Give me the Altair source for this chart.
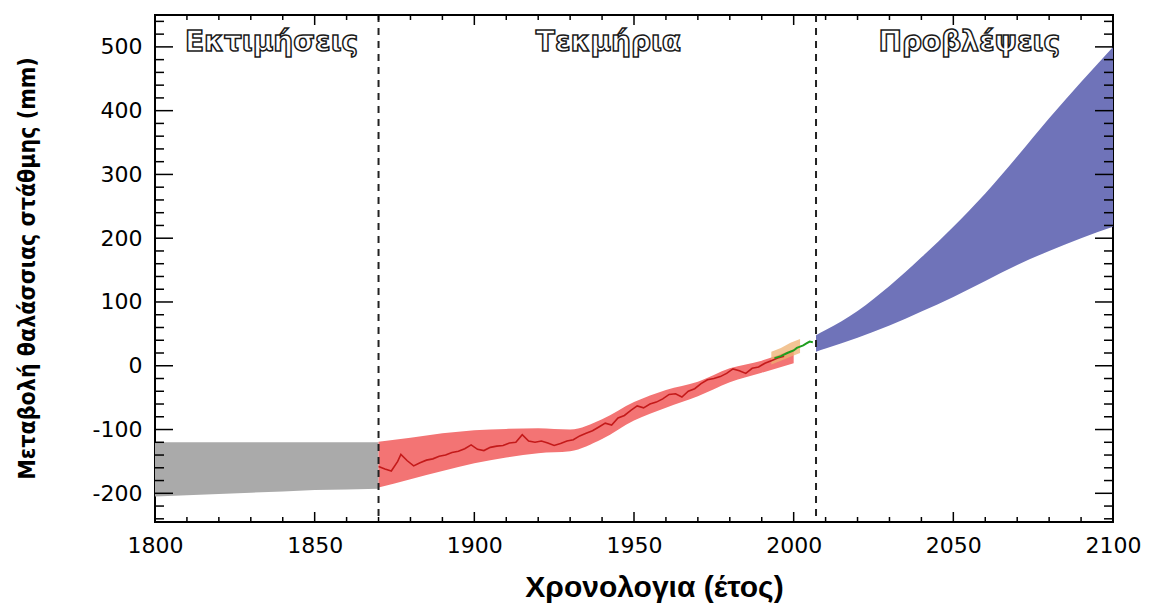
import altair as alt
import pandas as pd

# ---- data ----
gray_years = [1800, 1810, 1820, 1830, 1840, 1850, 1860, 1870]
gray_low = [-205, -203, -201, -199, -197, -195, -194, -193]
gray_high = [-120, -120, -120, -120, -120, -120, -120, -120]

red_band_years = [1870, 1880, 1890, 1900, 1910, 1920, 1930, 1940, 1950, 1960, 1970, 1980, 1990, 2000]
red_band_low = [-191, -178, -165, -153, -144, -137, -134, -115, -86, -66, -48, -26, -11, 4]
red_band_high = [-119, -113, -106, -101, -99, -98, -100, -84, -57, -38, -25, -4, 8, 26]

red_years = [1870, 1872, 1874, 1876, 1877, 1879, 1881, 1883, 1885, 1887, 1889, 1891, 1893, 1895,
             1897, 1899, 1901, 1903, 1905, 1907, 1909, 1911, 1913, 1915, 1917, 1919, 1921, 1923,
             1925, 1927, 1929, 1931, 1933, 1935, 1937, 1939, 1941, 1943, 1945, 1947, 1949, 1951,
             1953, 1955, 1957, 1959, 1961, 1963, 1965, 1967, 1969, 1971, 1973, 1975, 1977, 1979,
             1981, 1983, 1985, 1987, 1989, 1991, 1993, 1995, 1997]
red_values = [-158, -162, -165, -150, -139, -149, -157, -152, -148, -146, -142, -140, -136, -134,
              -130, -124, -131, -133, -128, -126, -125, -121, -120, -108, -118, -120, -118, -121,
              -125, -122, -118, -116, -110, -106, -102, -96, -90, -93, -82, -78, -70, -63,
              -66, -60, -57, -52, -45, -44, -49, -40, -36, -28, -22, -20, -17, -12,
              -5, -8, -12, -4, -2, 4, 8, 12, 15]

orange_years = [1993, 1996, 1999, 2002]
orange_low = [2, 8, 14, 20]
orange_high = [22, 28, 36, 42]

green_years = [1994, 1996, 1998, 2000, 2001, 2002, 2003, 2004, 2005, 2006]
green_values = [12, 15, 20, 24, 28, 30, 32, 35, 38, 37]

blue_years = [2007, 2010, 2020, 2030, 2040, 2050, 2060, 2070, 2080, 2090, 2100]
blue_low = [22, 27, 44, 63, 85, 108, 133, 158, 180, 200, 218]
blue_high = [48, 56, 86, 125, 170, 218, 270, 328, 388, 445, 500]

period_labels = ["Εκτιμήσεις", "Τεκμήρια", "Προβλέψεις"]
period_x = [1836.5, 1942, 2055]
period_y = [506, 506, 506]

divider_years = [1870, 2007]

x_major = [1800, 1850, 1900, 1950, 2000, 2050, 2100]
x_minor = [1810, 1820, 1830, 1840, 1860, 1870, 1880, 1890, 1910, 1920, 1930, 1940,
           1960, 1970, 1980, 1990, 2010, 2020, 2030, 2040, 2060, 2070, 2080, 2090]
y_major = [-200, -100, 0, 100, 200, 300, 400, 500]
y_minor = [-240, -220, -180, -160, -140, -120, -80, -60, -40, -20, 20, 40, 60, 80,
           120, 140, 160, 180, 220, 240, 260, 280, 320, 340, 360, 380, 420, 440, 460, 480,
           520, 540]

W, H = 958, 507

# ---- scales / axes ----
xscale = alt.Scale(domain=[1800, 2100], nice=False, zero=False)
yscale = alt.Scale(domain=[-245, 550], nice=False, zero=False)

xaxis = alt.Axis(values=x_major, labelExpr="'' + datum.value", ticks=False, domain=False, grid=False,
                 labelFont="DejaVu Sans", labelFontSize=22, labelColor="black",
                 labelPadding=13, labelFlush=False, labelOverlap=False,
                 title="Χρονολογια (έτος)", titleFont="Liberation Sans", titleFontSize=30,
                 titleFontWeight="bold", titleColor="black", titleX=499, titleY=74,
                 titleBaseline="alphabetic", titleAlign="center")
yaxis = alt.Axis(values=y_major, labelExpr="'' + datum.value", ticks=False, domain=False, grid=False,
                 labelFont="DejaVu Sans", labelFontSize=22, labelColor="black",
                 labelPadding=13, labelFlush=False, labelOverlap=False,
                 title="Μεταβολή θαλάσσιας στάθμης (mm)",
                 titleFont="Liberation Sans Narrow, DejaVu Sans Condensed, Liberation Sans",
                 titleFontSize=23, titleFontWeight="bold", titleColor="black",
                 titleAngle=270, titleX=-128, titleY=253, titleBaseline="middle",
                 titleAlign="center")


def X(f):
    return alt.X(f"{f}:Q", scale=xscale, axis=xaxis)


def Y(f):
    return alt.Y(f"{f}:Q", scale=yscale, axis=yaxis)


gray_df = pd.DataFrame({"year": gray_years, "lo": gray_low, "hi": gray_high})
redb_df = pd.DataFrame({"year": red_band_years, "lo": red_band_low, "hi": red_band_high})
red_df = pd.DataFrame({"year": red_years, "v": red_values})
orange_df = pd.DataFrame({"year": orange_years, "lo": orange_low, "hi": orange_high})
green_df = pd.DataFrame({"year": green_years, "v": green_values})
blue_df = pd.DataFrame({"year": blue_years, "lo": blue_low, "hi": blue_high})
label_df = pd.DataFrame({"label": period_labels, "year": period_x, "v": period_y})
div_df = pd.DataFrame({"year": divider_years})

gray = alt.Chart(gray_df).mark_area(color="#aaaaaa").encode(x=X("year"), y=Y("lo"), y2="hi")
redb = alt.Chart(redb_df).mark_area(color="#f37474", interpolate="monotone").encode(
    x=X("year"), y=Y("lo"), y2="hi")
orange = alt.Chart(orange_df).mark_area(color="#eeb070", opacity=0.75).encode(
    x=X("year"), y=Y("lo"), y2="hi")
redl = alt.Chart(red_df).mark_line(color="#c41a1a", strokeWidth=1.6).encode(x=X("year"), y=Y("v"))
green = alt.Chart(green_df).mark_line(color="#1f9e1f", strokeWidth=2).encode(x=X("year"), y=Y("v"))
blue = alt.Chart(blue_df).mark_area(color="#6f73b9", interpolate="monotone").encode(
    x=X("year"), y=Y("lo"), y2="hi")
divs = alt.Chart(div_df).mark_rule(color="#222222", strokeWidth=2, strokeDash=[7, 6]).encode(
    x=X("year"))
labels = alt.Chart(label_df).mark_text(font="DejaVu Sans", fontSize=28, fontWeight="bold",
                                       fill="white", stroke="#1a1a1a", strokeWidth=1.5).encode(
    x=X("year"), y=Y("v"), text="label:N")


def xticks(vals, y0, y1):
    return alt.Chart(pd.DataFrame({"year": vals})).mark_rule(color="black", strokeWidth=1.5).encode(
        x=X("year"), y=alt.value(y0), y2=alt.value(y1))


def yticks(vals, x0, x1):
    return alt.Chart(pd.DataFrame({"v": vals})).mark_rule(color="black", strokeWidth=1.5).encode(
        y=Y("v"), x=alt.value(x0), x2=alt.value(x1))


ticks = [
    xticks(x_major, H, H - 10), xticks(x_minor, H, H - 5),
    xticks(x_major, 0, 10), xticks(x_minor, 0, 5),
    yticks(y_major, 0, 18), yticks(y_minor, 0, 9),
    yticks(y_major, W, W - 18), yticks(y_minor, W, W - 9),
]

chart = alt.layer(gray, redb, orange, redl, green, blue, divs, labels, *ticks).properties(
    width=W, height=H,
    autosize=alt.AutoSizeParams(type="none"),
    padding={"left": 155, "top": 15, "right": 38, "bottom": 90},
    background="white",
).configure_view(stroke="black", strokeWidth=2)

chart.save("out.html", embed_options={"renderer": "svg", "actions": False})
